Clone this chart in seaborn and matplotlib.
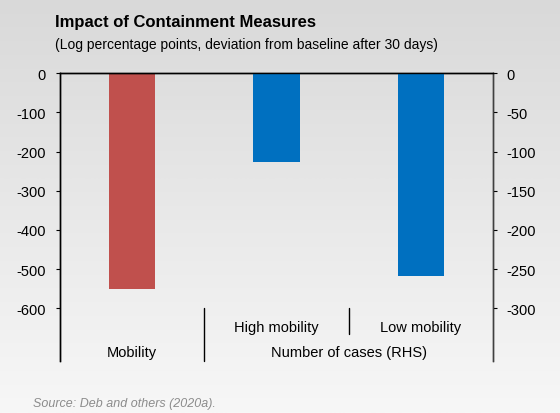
import matplotlib
matplotlib.use("Agg")
import matplotlib.pyplot as plt
import matplotlib.transforms as mtransforms
import numpy as np
import pandas as pd
import seaborn as sns

# data
categories = ["Mobility", "High mobility", "Low mobility"]
mobility_values = [-552]          # left axis
cases_categories = ["High mobility", "Low mobility"]
cases_values = [-113, -259]       # right axis (RHS)
left_ticks = [0, -100, -200, -300, -400, -500, -600]
right_ticks = [0, -50, -100, -150, -200, -250, -300]

red = "#C0504D"
blue = "#0070C0"

sns.set_style("ticks")
plt.rcParams["font.family"] = ["Liberation Sans", "DejaVu Sans"]
plt.rcParams["axes.unicode_minus"] = False
plt.rcParams["text.color"] = "black"

fig = plt.figure(figsize=(5.6, 4.14), dpi=100)

# gradient background
bg = fig.add_axes([0, 0, 1, 1], zorder=-10)
grad = np.linspace(0, 1, 256).reshape(-1, 1)
bg.imshow(grad, aspect="auto", cmap=matplotlib.colors.LinearSegmentedColormap.from_list(
    "bg", ["#d9d9d9", "#f7f7f7"]), extent=[0, 1, 0, 1])
bg.set_axis_off()

ax = fig.add_axes([0.1071, 0.1256, 0.7732, 0.6949])
ax.set_facecolor("none")
ax2 = ax.twinx()
ax2.set_facecolor("none")

df_mob = pd.DataFrame({"cat": ["Mobility"], "val": mobility_values})
df_cases = pd.DataFrame({"cat": cases_categories, "val": cases_values})

sns.barplot(data=df_mob, x="cat", y="val", order=categories, color=red,
            width=0.32, saturation=1, linewidth=0, ax=ax)
sns.barplot(data=df_cases, x="cat", y="val", order=categories, color=blue,
            width=0.32, saturation=1, linewidth=0, ax=ax2)

ax.set_xlim(-0.5, 2.5)
ax2.set_xlim(-0.5, 2.5)
ax.set_ylim(-735, 0)
ax2.set_ylim(-367.5, 0)
ax.set_yticks(left_ticks)
ax2.set_yticks(right_ticks)
ax.set_xticks([])
ax2.set_xticks([])
ax.set_xlabel("")
ax.set_ylabel("")
ax2.set_xlabel("")
ax2.set_ylabel("")

for a in (ax, ax2):
    a.spines["bottom"].set_visible(False)
    a.spines["top"].set_visible(True)
    a.spines["top"].set_color("black")
    a.spines["left"].set_color("black")
    a.spines["right"].set_color("#404040")
    for s in ("top", "left", "right"):
        a.spines[s].set_linewidth(1.0)
ax.tick_params(axis="y", length=3, width=0.8, pad=7, labelsize=10.5, colors="black")
ax2.tick_params(axis="y", length=3, width=0.8, pad=7, labelsize=10.5, colors="black")

# category labels and separators
tr = mtransforms.blended_transform_factory(ax.transData, ax.transAxes)
ax.plot([0.5, 0.5], [0, 0.184], transform=tr, color="black", lw=1, clip_on=False)
ax.plot([1.5, 1.5], [0.094, 0.184], transform=tr, color="black", lw=1, clip_on=False)
ax.text(1, 0.118, "High mobility", transform=tr, ha="center", va="center", fontsize=10.5)
ax.text(2, 0.118, "Low mobility", transform=tr, ha="center", va="center", fontsize=10.5)
ax.text(0, 0.031, "Mobility", transform=tr, ha="center", va="center", fontsize=10.5)
ax.text(1.5, 0.031, "Number of cases (RHS)", transform=tr, ha="center", va="center", fontsize=10.5)

fig.text(55 / 560, 1 - 22 / 414, "Impact of Containment Measures", fontsize=12,
         fontweight="bold", ha="left", va="center")
fig.text(55 / 560, 1 - 45 / 414, "(Log percentage points, deviation from baseline after 30 days)",
         fontsize=10, ha="left", va="center")
fig.text(33 / 560, 1 - 404 / 414, "Source: Deb and others (2020a).", fontsize=9,
         style="italic", color="#8c8c8c", ha="left", va="center")

fig.savefig("out.png", dpi=100)
